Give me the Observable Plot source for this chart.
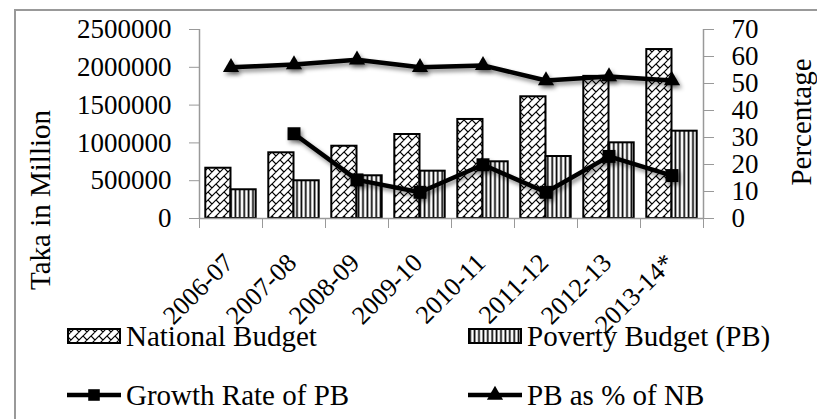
<!DOCTYPE html>
<html>
<head>
<meta charset="utf-8">
<script src="https://cdn.jsdelivr.net/npm/d3@7"></script>
<script src="https://cdn.jsdelivr.net/npm/@observablehq/plot@0.6"></script>
<style>
  body { margin: 0; background: #fff; }
  #wrap { position: relative; width: 817px; height: 419px; overflow: hidden; font-family: "Liberation Serif", serif; color: #000; }
  #wrap > svg { position: absolute; left: 0; top: 0; overflow: visible; }
  .frame { position: absolute; left: 14px; top: 9px; width: 900px; height: 500px; border-left: 2px solid #999; border-top: 2px solid #999; }
  .ytitle { position: absolute; font-size: 29px; white-space: nowrap; transform: translate(-50%, -50%) rotate(-90deg); line-height: 1; }
  .leg { position: absolute; height: 28px; display: flex; align-items: center; font-size: 29px; line-height: 28px; white-space: nowrap; }
  .leg svg { margin-right: 5px; overflow: visible; }
</style>
</head>
<body>
<div id="wrap">
  <div class="frame"></div>
</div>
<script>
const years = ["2006-07", "2007-08", "2008-09", "2009-10", "2010-11", "2011-12", "2012-13", "2013-14*"];
const nationalBudget = [665000, 869000, 956000, 1111000, 1310000, 1610000, 1880000, 2235000];
const povertyBudget = [380000, 499000, 565000, 626000, 750000, 820000, 1001000, 1155000];
const growthRatePB = [null, 31.4, 14.3, 9.7, 19.9, 9.7, 23.0, 15.9];
const pbShareOfNB = [56.0, 57.0, 58.8, 56.0, 56.7, 51.1, 52.6, 51.1];
const leftTicks = [0, 500000, 1000000, 1500000, 2000000, 2500000];
const rightTicks = [0, 10, 20, 30, 40, 50, 60, 70];
const leftMax = 2500000, rightMax = 70;
const k = leftMax / rightMax;

const rows = years.map((year, i) => ({
  year, i,
  nb: nationalBudget[i], pb: povertyBudget[i],
  gr: growthRatePB[i], share: pbShareOfNB[i]
}));
const grRows = rows.filter(d => d.gr != null);

const chart = Plot.plot({
  width: 817,
  height: 419,
  marginLeft: 199,
  marginRight: 114,
  marginTop: 29,
  marginBottom: 201,
  style: { fontFamily: "Liberation Serif, serif", fontSize: "27px", color: "#000", background: "transparent", overflow: "visible" },
  x: { type: "linear", domain: [0, years.length] },
  y: { domain: [0, leftMax] },
  marks: [
    Plot.rectY(rows, { x1: d => d.i + 0.1, x2: d => d.i + 0.5, y: "nb", fill: "url(#nbHatch)", stroke: "#000", strokeWidth: 2 }),
    Plot.rectY(rows, { x1: d => d.i + 0.5, x2: d => d.i + 0.9, y: "pb", fill: "url(#pbHatch)", stroke: "#000", strokeWidth: 2 }),
    Plot.ruleY([0], { stroke: "#999", strokeWidth: 1.5 }),
    Plot.ruleX([0, years.length], { stroke: "#999", strokeWidth: 1.5 }),
    Plot.axisY({ anchor: "left", ticks: leftTicks, tickFormat: d3.format("d"), tickSize: 10, tickPadding: 18, stroke: "#999", label: null }),
    Plot.axisY({ anchor: "right", ticks: rightTicks.map(v => v * k), tickFormat: d => String(Math.round(d / k)), tickSize: 10, tickPadding: 18, stroke: "#999", label: null }),
    Plot.axisX({ ticks: d3.range(0, years.length + 1), tickFormat: () => "", tickSize: 10, stroke: "#999", label: null }),
    Plot.text(rows, { x: d => d.i + 0.5, y: 0, text: "year", rotate: -45, textAnchor: "end", dx: -2, dy: 40, fontSize: 26, fill: "#000" }),
    Plot.line(rows, { x: d => d.i + 0.5, y: d => d.share * k, stroke: "#000", strokeWidth: 4.5 }),
    Plot.dot(rows, { x: d => d.i + 0.5, y: d => d.share * k, symbol: "triangle", r: 6, fill: "#000", stroke: "none" }),
    Plot.line(grRows, { x: d => d.i + 0.5, y: d => d.gr * k, stroke: "#000", strokeWidth: 4.5 }),
    Plot.dot(grRows, { x: d => d.i + 0.5, y: d => d.gr * k, symbol: "square", r: 7.3, fill: "#000", stroke: "none" })
  ]
});

// hatch patterns
const svg = d3.select(chart);
const defs = svg.insert("defs", ":first-child");
const nbP = defs.append("pattern").attr("id", "nbHatch").attr("patternUnits", "userSpaceOnUse").attr("width", 8).attr("height", 8);
nbP.append("rect").attr("width", 8).attr("height", 8).attr("fill", "#fff");
nbP.append("path").attr("d", "M-1,9L9,-1M-1,1L1,-1M7,9L9,7M0,0L4,4").attr("stroke", "#000").attr("stroke-width", 1.2).attr("fill", "none");
const pbP = defs.append("pattern").attr("id", "pbHatch").attr("patternUnits", "userSpaceOnUse").attr("width", 4.4).attr("height", 10);
pbP.append("rect").attr("width", 4.4).attr("height", 10).attr("fill", "#fff");
pbP.append("path").attr("d", "M2.2,0V10").attr("stroke", "#000").attr("stroke-width", 1.7);

svg.selectAll('g[aria-label="line"], g[aria-label="dot"]').style("filter", "drop-shadow(2px 3px 2px rgba(0,0,0,0.45))");

const wrap = document.getElementById("wrap");
wrap.appendChild(chart);

// axis titles
function addTitle(text, cx, cy) {
  const d = document.createElement("div");
  d.className = "ytitle";
  d.textContent = text;
  d.style.left = cx + "px";
  d.style.top = cy + "px";
  wrap.appendChild(d);
}
addTitle("Taka in Million", 40, 200);
addTitle("Percentage", 801, 122);

// legend
const legendItems = [
  { label: "National Budget", kind: "nb", left: 67, top: 322 },
  { label: "Poverty Budget (PB)", kind: "pb", left: 468, top: 322 },
  { label: "Growth Rate of PB", kind: "gr", left: 67, top: 381 },
  { label: "PB as % of NB", kind: "share", left: 468, top: 381 }
];
legendItems.forEach(it => {
  const d = document.createElement("div");
  d.className = "leg";
  d.style.left = it.left + "px";
  d.style.top = it.top + "px";
  let sw;
  if (it.kind === "nb" || it.kind === "pb") {
    sw = `<svg width="54" height="16"><rect x="1" y="1" width="52" height="14" fill="url(#${it.kind}Hatch)" stroke="#000" stroke-width="2"/></svg>`;
  } else {
    const marker = it.kind === "gr"
      ? d3.symbol(d3.symbolSquare, Math.PI * 7.3 * 7.3 * 0.8)()
      : d3.symbol(d3.symbolTriangle, Math.PI * 6 * 6)();
    sw = `<svg width="54" height="16"><g transform="translate(0,8)"><line x1="0" x2="54" stroke="#000" stroke-width="4.5"/><path transform="translate(27,0)" d="${marker}" fill="#000"/></g></svg>`;
  }
  d.innerHTML = sw + `<span>${it.label}</span>`;
  wrap.appendChild(d);
});
</script>
</body>
</html>
